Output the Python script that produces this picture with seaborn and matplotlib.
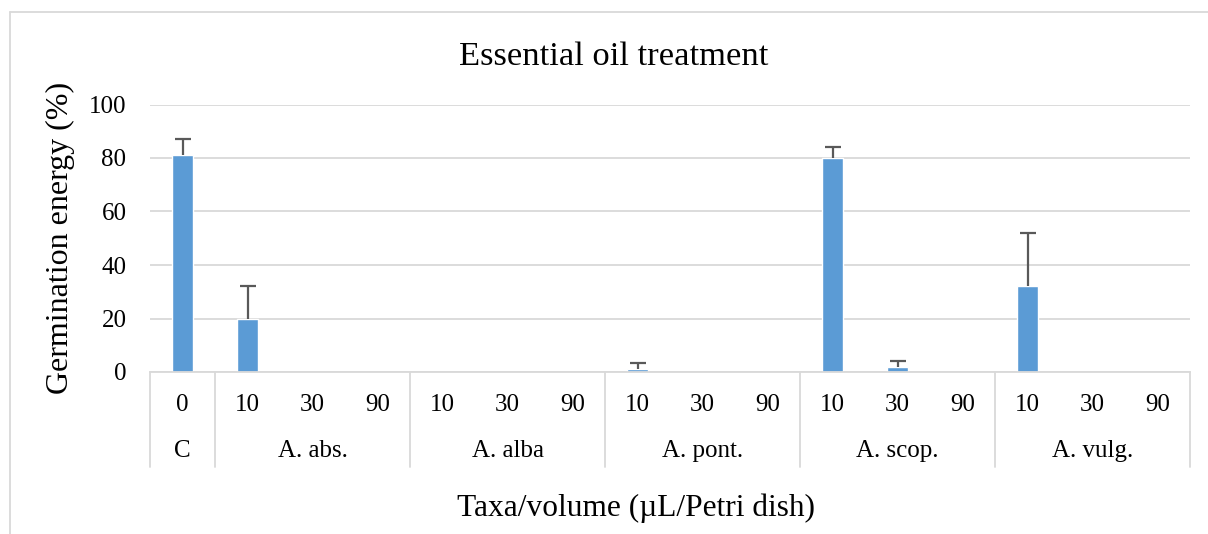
import numpy as np
import pandas as pd
import matplotlib
matplotlib.use("Agg")
import matplotlib.pyplot as plt
import seaborn as sns

groups = ["C", "A. abs.", "A. alba", "A. pont.", "A. scop.", "A. vulg."]
doses = [["0"], ["10", "30", "90"], ["10", "30", "90"], ["10", "30", "90"],
         ["10", "30", "90"], ["10", "30", "90"]]
energy = [81, 20, 0, 0, 0, 0, 0, 1, 0, 0, 80, 2, 0, 32, 0, 0]
sd = [6, 12, 0, 0, 0, 0, 0, 2.5, 0, 0, 4, 2, 0, 20, 0, 0]

rows = []
for g, ds in zip(groups, doses):
    for d in ds:
        rows.append({"Group": g, "Dose": d, "key": g + " " + d})
df = pd.DataFrame(rows)
df["Energy"] = energy
df["SD"] = sd

sns.set_style("white")
plt.rcParams["font.family"] = ["Liberation Serif", "DejaVu Serif"]
plt.rcParams["text.color"] = "black"
plt.rcParams["axes.labelcolor"] = "black"
plt.rcParams["xtick.color"] = "black"
plt.rcParams["ytick.color"] = "black"

fig = plt.figure(figsize=(12.08, 5.34), dpi=100)
ax = fig.add_axes([150 / 1208, 1 - 372 / 534, 1040 / 1208, 267.5 / 534])

sns.barplot(data=df, x="key", y="Energy", color="#5B9BD5", width=0.33,
            errorbar=None, saturation=1, ax=ax)
x = np.arange(len(df))
nz = (df["SD"] > 0).to_numpy()
eb = ax.errorbar(x[nz], df["Energy"][nz], yerr=[np.zeros(nz.sum()), df["SD"][nz]],
                 fmt="none", ecolor="#595959", elinewidth=1.6, capsize=6, capthick=1.6)
# only the upper cap, like the original
eb[1][0].set_visible(False)

ax.set_ylim(0, 100)
ax.set_xlim(-0.5, len(df) - 0.5)
ax.set_yticks([0, 20, 40, 60, 80, 100])
ax.yaxis.grid(True, color="#D9D9D9", linewidth=1.3)
ax.set_axisbelow(True)
for s in ["top", "right", "left"]:
    ax.spines[s].set_visible(False)
ax.spines["bottom"].set_color("#D9D9D9")
ax.spines["bottom"].set_linewidth(1.3)
ax.tick_params(axis="y", length=0, labelsize=18, pad=17)
ax.set_xticks(x)
ax.set_xticklabels(df["Dose"], fontsize=18)
ax.tick_params(axis="x", length=0, pad=16)
ax.set_xlabel("")
ax.set_ylabel("Germination energy (%)", fontsize=23, labelpad=10)

# group labels and separators of the two-level category axis
trans = ax.get_xaxis_transform()
start = -0.5
for g, ds in zip(groups, doses):
    end = start + len(ds)
    ax.text((start + end) / 2, -0.295, g, transform=trans, ha="center",
            va="center", fontsize=18)
    ax.plot([start, start], [0, -0.355], transform=trans, color="#D9D9D9",
            linewidth=1.3, clip_on=False)
    start = end
ax.plot([start, start], [0, -0.355], transform=trans, color="#D9D9D9",
        linewidth=1.3, clip_on=False)

fig.text(614 / 1208, 1 - 57 / 534, "Essential oil treatment", ha="center",
         va="center", fontsize=24.8)
fig.text(636 / 1208, 1 - 508 / 534, "Taxa/volume (\u00b5L/Petri dish)",
         ha="center", va="center", fontsize=22.6)

# outer chart frame (cropped at right and bottom)
fig.add_artist(plt.Line2D([10 / 1208, 10 / 1208], [0, 1 - 12 / 534],
                          transform=fig.transFigure, color="#D9D9D9", linewidth=1.3))
fig.add_artist(plt.Line2D([10 / 1208, 1], [1 - 12 / 534, 1 - 12 / 534],
                          transform=fig.transFigure, color="#D9D9D9", linewidth=1.3))

fig.savefig("out.png", dpi=100)
